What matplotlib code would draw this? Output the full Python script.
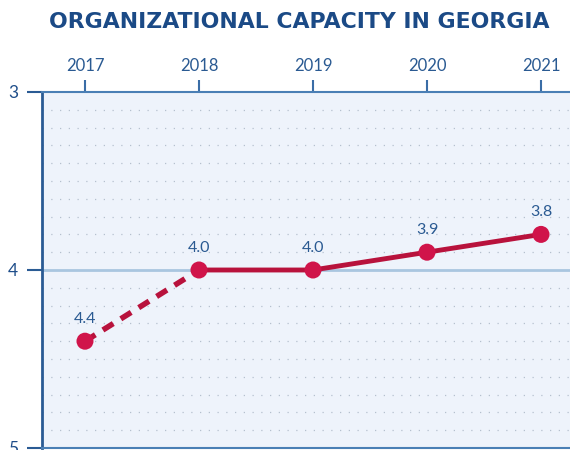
import matplotlib
matplotlib.use("Agg")
import matplotlib.pyplot as plt
import numpy as np

years = [2017, 2018, 2019, 2020, 2021]
scores = [4.4, 4.0, 4.0, 3.9, 3.8]
labels = ["4.4", "4.0", "4.0", "3.9", "3.8"]
yticks = [3, 4, 5]

navy = "#1F4E8A"
blue_txt = "#2A5A92"
red_line = "#B8123C"
red_mark = "#D0144A"

fig = plt.figure(figsize=(5.7, 4.5), dpi=100)
ax = fig.add_axes([42/570, 2/450, (584-42)/570, (448-92)/450])
ax.set_facecolor("#EEF3FB")
ax.set_xlim(2016.623, 2021.377)
ax.set_ylim(5, 3)

# dotted grid every 0.1
for g in np.arange(3.1, 5.0, 0.1):
    if abs(g - 4.0) < 1e-6:
        continue
    ax.axhline(g, color="#B5C0CE", lw=0.9, ls=(0, (1, 6)), zorder=1)
ax.axhline(4.0, color="#A9C6E0", lw=2, zorder=2)

# dashed first segment, solid rest
ax.plot(years[:2], scores[:2], color=red_line, lw=4, ls=(0, (2.2, 1.6)), zorder=3, solid_capstyle="butt", dash_capstyle="butt")
ax.plot(years[1:], scores[1:], color=red_line, lw=3.5, zorder=3, solid_capstyle="round")
ax.scatter(years, scores, s=150, color=red_mark, zorder=4, edgecolors="none")

for x, y, t in zip(years, scores, labels):
    ax.annotate(t, (x, y), xytext=(0, 11), textcoords="offset points", ha="center", va="bottom",
                fontsize=11.5, color=blue_txt, family="Lato")

ax.xaxis.tick_top()
ax.set_xticks(years)
ax.set_xticklabels([str(y) for y in years], fontsize=12, color=blue_txt, family="Lato")
ax.tick_params(axis="x", length=9, width=1.5, color="#3A6DA6", pad=4)
ax.set_yticks(yticks)
ax.set_yticklabels([str(v) for v in yticks], fontsize=12.5, color=navy, family="Lato")
ax.tick_params(axis="y", length=11, width=1.5, color="#2A5B94", pad=6)

ax.spines["right"].set_visible(False)
ax.spines["left"].set_color("#2A5B94")
ax.spines["left"].set_linewidth(2)
ax.spines["top"].set_color("#4A7FB5")
ax.spines["top"].set_linewidth(1.5)
ax.spines["bottom"].set_color("#4A7FB5")
ax.spines["bottom"].set_linewidth(1.5)

fig.text(299/570, 1 - 22/450, "ORGANIZATIONAL CAPACITY IN GEORGIA", ha="center", va="center",
         fontsize=15.8, fontweight="heavy", color="#1B4A86", family="DejaVu Sans")

fig.savefig("out.png", dpi=100)
